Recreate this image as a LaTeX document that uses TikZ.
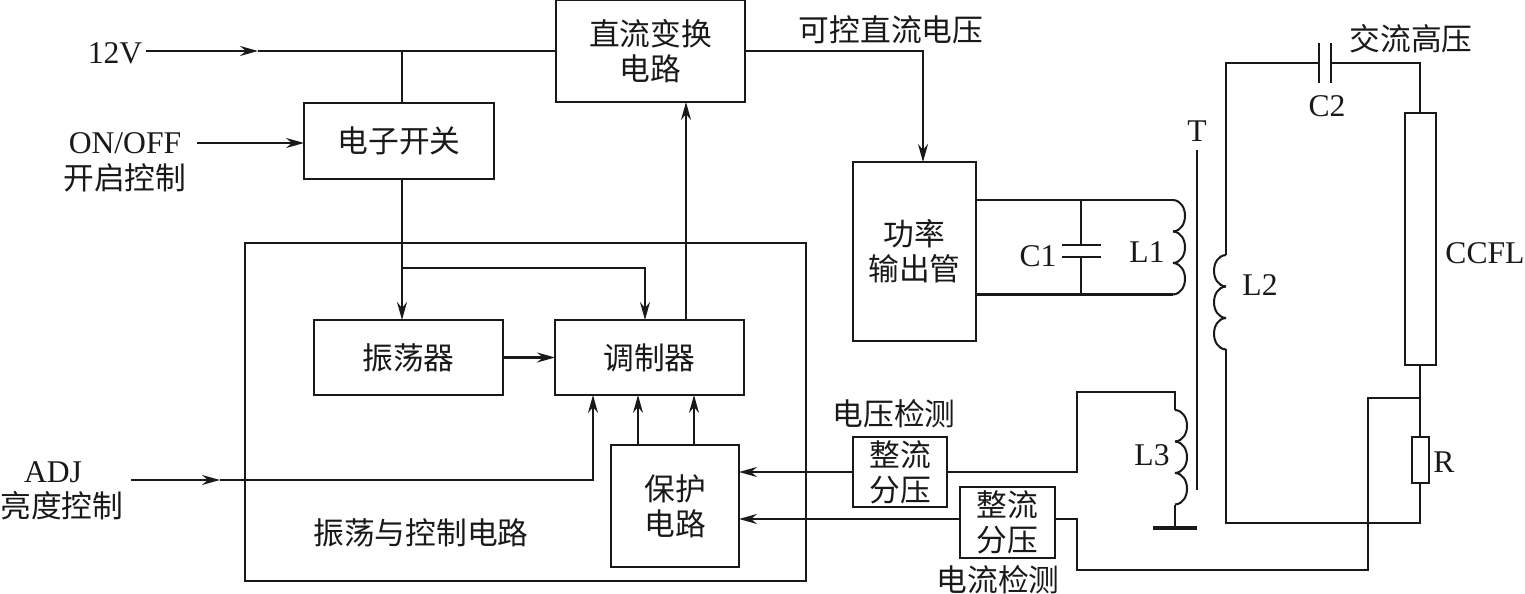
\documentclass[tikz,border=0pt]{standalone}
\usepackage{fontspec}
\setmainfont{Liberation Serif}
\newfontfamily\cjkfont{Noto Sans CJK SC}
\usetikzlibrary{arrows.meta}
\definecolor{inkblack}{RGB}{25,25,25}
\tikzset{
  wire/.style={draw=inkblack, line width=1.15pt},
  arrow/.style={wire, -{Stealth[length=3.6mm, width=2mm, inset=1.2mm]}},
  block/.style={draw=inkblack, line width=1.15pt, rectangle, inner sep=0pt, outer sep=0pt,
                align=center, text=inkblack,
                font=\cjkfont\fontsize{17.5}{20}\selectfont},
  cjklabel/.style={align=center, inner sep=0pt, text=inkblack,
                   font=\cjkfont\fontsize{17.5}{20}\selectfont},
  latinlabel/.style={align=center, inner sep=0pt, text=inkblack,
                     font=\fontsize{18}{22}\selectfont},
  coil/.pic={
    \foreach \i in {0,1,2}
      \draw[wire] (0,{31.5*\i}) .. controls (16,{31.5*\i+1}) and (16,{31.5*\i+30.5}) .. (0,{31.5*\i+31.5});
  },
}
\begin{document}
\begin{tikzpicture}[x=0.02cm, y=-0.02cm]
\useasboundingbox (0,0) rectangle (1525,594);

% ---------------- blocks ----------------
\node[block, minimum width=3.78cm, minimum height=2.04cm] (dc) at (650.5,51) {直流变换\\电路};
\node[block, minimum width=3.8cm, minimum height=1.52cm] (switch) at (399,141) {电子开关};
\node[block, minimum width=11.22cm, minimum height=6.76cm] (ctrl) at (525.5,412) {};
\node[block, minimum width=3.78cm, minimum height=1.5cm] (osc) at (408.5,357.5) {振荡器};
\node[block, minimum width=3.78cm, minimum height=1.5cm] (mod) at (649.5,357.5) {调制器};
\node[block, minimum width=2.56cm, minimum height=2.44cm] (prot) at (675,506) {保护\\电路};
\node[block, minimum width=2.46cm, minimum height=3.58cm] (power) at (914.5,251.5) {功率\\输出管};
\node[block, minimum width=1.88cm, minimum height=1.4cm] (rect1) at (900,472) {整流\\分压};
\node[block, minimum width=1.9cm, minimum height=1.42cm] (rect2) at (1007.5,522.5) {整流\\分压};
\node[block, minimum width=0.62cm, minimum height=5.04cm] (ccfl) at (1420,239) {};
\node[block, minimum width=0.34cm, minimum height=0.92cm] (res) at (1420,460) {};

% ---------------- labels ----------------
\node[latinlabel] (l12v) at (115,53) {12V};
\node[latinlabel] (lonoff) at (125,143) {ON/OFF};
\node[cjklabel] (lstart) at (125,178) {开启控制};
\node[latinlabel] (ladj) at (53,472) {ADJ};
\node[cjklabel] (lbright) at (62,506) {亮度控制};
\node[cjklabel] (lctrl) at (421,533) {振荡与控制电路};
\node[cjklabel] (lvdc) at (891,30) {可控直流电压};
\node[cjklabel] (lhv) at (1411,39) {交流高压};
\node[cjklabel] (lvsense) at (894,414) {电压检测};
\node[cjklabel] (lisense) at (998,580) {电流检测};
\node[latinlabel] (lc1) at (1038,256) {C1};
\node[latinlabel] (lc2) at (1327,106) {C2};
\node[latinlabel] (ll1) at (1147,252) {L1};
\node[latinlabel] (ll2) at (1260,285) {L2};
\node[latinlabel] (ll3) at (1152,455) {L3};
\node[latinlabel] (lt) at (1197,131) {T};
\node[latinlabel] (lccfl) at (1485,253) {CCFL};
\node[latinlabel] (lr) at (1444,462) {R};

% ---------------- inputs and control path ----------------
\coordinate (in12) at (146,51);
\coordinate (a12) at (258,51);
\coordinate (j12) at (402,51);
\coordinate (inon) at (197,143);
\coordinate (inadj) at (131,480);
\coordinate (aadj) at (220,480);
\coordinate (jsw) at (402,268);
\coordinate (modtop) at (645,320);
\coordinate (modout) at (686,320);
\coordinate (modadj) at (593,395);
\coordinate (pv1) at (638,445);
\coordinate (pv2) at (694,445);
\coordinate (vout) at (923,162);

\draw[arrow] (in12) -- (a12);
\draw[wire] (a12) -- (dc.west);
\draw[wire] (j12) -- (j12 |- switch.north);
\draw[arrow] (inon) -- (inon -| switch.west);
\draw[arrow] (j12 |- switch.south) -- (j12 |- osc.north);
\draw[arrow] (jsw) -| (modtop);
\draw[arrow] (osc.east) -- (mod.west);
\draw[arrow] (modout) -- (modout |- dc.south);
\draw[arrow] (dc.east) -| (vout);
\draw[arrow] (inadj) -- (aadj);
\draw[arrow] (aadj) -| (modadj);
\draw[arrow] (pv1) -- (pv1 |- mod.south);
\draw[arrow] (pv2) -- (pv2 |- mod.south);

% ---------------- sense feedback ----------------
\coordinate (s2) at (960,519);
\coordinate (jr) at (1420,398);
\coordinate (l3t) at (1175,410);
\coordinate (l3b) at (1175,504.5);
\coordinate (gnd) at (1175,528);
\draw[arrow] (rect1.west) -- (rect1.west -| prot.east);
\draw[arrow] (s2) -- (s2 -| prot.east);
\draw[wire] (rect1.east) -- (1077,472) |- (1175,392) -- (l3t);
\draw[wire] (rect2.east |- s2) -- (1077,519) |- (1368,570) |- (jr);
\pic at (l3t) {coil};
\draw[wire] (l3b) -- (gnd);
\draw[wire, line width=2.2pt] (1153,528) -- (1197,528);

% ---------------- primary side ----------------
\coordinate (l1t) at (1173,200);
\coordinate (l1b) at (1173,294.5);
\coordinate (c1t) at (1081,245);
\coordinate (c1b) at (1081,257);
\draw[wire] (l1t -| power.east) -- (l1t);
\draw[wire] (l1b -| power.east) -- (l1b);
\pic at (l1t) {coil};
\draw[wire] (c1t |- l1t) -- (c1t);
\draw[wire] (c1b) -- (c1b |- l1b);
\draw[wire] (1062,245) -- (1101,245);
\draw[wire] (1062,257) -- (1101,257);
\draw[wire] (1197,150) -- (1197,490);

% ---------------- secondary side ----------------
\coordinate (l2t) at (1226,255);
\coordinate (l2b) at (1226,349.5);
\coordinate (loopb) at (1226,523);
\coordinate (c2l) at (1319,63);
\coordinate (c2r) at (1331,63);
\pic[xscale=-1] at (l2t) {coil};
\draw[wire] (l2t) |- (c2l);
\draw[wire] (c2r) -| (ccfl.north);
\draw[wire] (1319,43) -- (1319,83);
\draw[wire] (1331,43) -- (1331,83);
\draw[wire] (ccfl.south) -- (res.north);
\draw[wire] (res.south) |- (loopb) -- (l2b);
\end{tikzpicture}
\end{document}
